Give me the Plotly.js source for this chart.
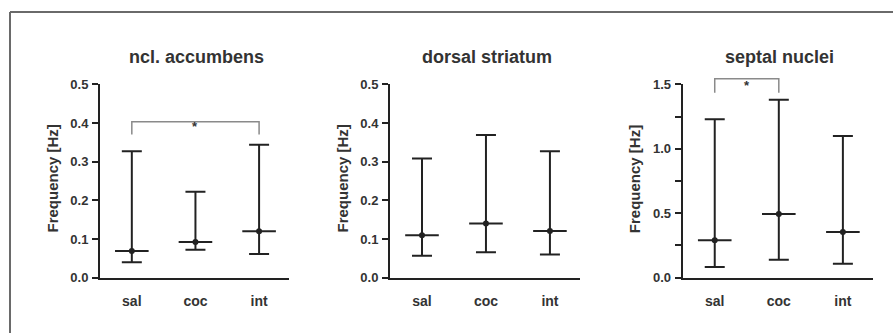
<!DOCTYPE html>
<html>
<head>
<meta charset="utf-8">
<script src="https://cdn.plot.ly/plotly-3.0.1.min.js"></script>
<style>html,body{margin:0;padding:0;background:#fff;}#chart{width:893px;height:333px;}</style>
</head>
<body>
<div id="chart"></div>
<script>
// ---- data (median with range whiskers) ----
const categories = ['sal', 'coc', 'int'];
const panelTitles = ['ncl. accumbens', 'dorsal striatum', 'septal nuclei'];
const yTitle = 'Frequency [Hz]';

const accMedian = [0.069, 0.092, 0.120];
const accLow    = [0.040, 0.072, 0.061];
const accHigh   = [0.327, 0.222, 0.344];

const dorMedian = [0.110, 0.140, 0.121];
const dorLow    = [0.057, 0.066, 0.060];
const dorHigh   = [0.308, 0.369, 0.327];

const sepMedian = [0.290, 0.494, 0.354];
const sepLow    = [0.083, 0.140, 0.109];
const sepHigh   = [1.228, 1.381, 1.099];

const yRanges = [[0, 0.5], [0, 0.5], [0, 1.5]];
const yDticks = [0.1, 0.1, 0.5];

// significance brackets: [fromCat, toCat, barY, legEndY, starY]
const accBracket = ['sal', 'int', 0.403, 0.370, 0.392];
const sepBracket = ['sal', 'coc', 1.543, 1.435, 1.492];

// ---- build ----
const FONT = 'Liberation Sans, Arial, sans-serif';
const TXT = '#333333';
const INK = '#222222';
const panels = [
  {med: accMedian, lo: accLow, hi: accHigh},
  {med: dorMedian, lo: dorLow, hi: dorHigh},
  {med: sepMedian, lo: sepLow, hi: sepHigh}
];
const W = 893, H = 333;
const xDomPx = [[100, 289], [390, 580], [682.7, 873]];
const xRange = [-0.5, 2.47];
const yDom = [(H - 277.7) / H, (H - 84.3) / H];

const traces = [];
const layout = {
  width: W, height: H,
  margin: {l: 0, r: 0, t: 0, b: 0},
  paper_bgcolor: '#fff', plot_bgcolor: 'rgba(0,0,0,0)',
  showlegend: false,
  font: {family: FONT, color: TXT},
  annotations: [], shapes: []
};

panels.forEach((p, i) => {
  const n = i + 1;
  const xa = 'x' + (n === 1 ? '' : n), ya = 'y' + (n === 1 ? '' : n);
  const xk = 'xaxis' + (n === 1 ? '' : n), yk = 'yaxis' + (n === 1 ? '' : n);
  traces.push({
    type: 'scatter', mode: 'markers', x: categories, y: p.med, xaxis: xa, yaxis: ya,
    marker: {symbol: 'line-ew', size: 24, color: INK, line: {width: 2, color: INK}},
    error_y: {type: 'data', symmetric: false,
      array: p.hi.map((v, k) => v - p.med[k]),
      arrayminus: p.med.map((v, k) => v - p.lo[k]),
      width: 10, thickness: 2, color: INK},
    hoverinfo: 'skip'
  });
  traces.push({
    type: 'scatter', mode: 'markers', x: categories, y: p.med, xaxis: xa, yaxis: ya,
    marker: {symbol: 'circle', size: 6, color: INK}, hoverinfo: 'skip'
  });
  layout[xk] = {
    domain: [xDomPx[i][0] / W, xDomPx[i][1] / W], anchor: ya,
    type: 'category', categoryorder: 'array', categoryarray: categories,
    range: xRange, showgrid: false, zeroline: false,
    showline: true, linecolor: INK, linewidth: 2, ticks: '',
    ticklabelstandoff: 9,
    tickfont: {family: FONT, size: 14, color: TXT, weight: 'bold'}, fixedrange: true
  };
  const yax = {
    domain: yDom, anchor: xa, range: yRanges[i], dtick: yDticks[i], tick0: 0,
    tickformat: '.1f', showgrid: false, zeroline: false,
    showline: true, linecolor: INK, linewidth: 2,
    ticks: 'outside', ticklen: 6, tickwidth: 2, tickcolor: INK,
    ticklabelstandoff: 1,
    tickfont: {family: FONT, size: 13, color: TXT, weight: 'bold'}, fixedrange: true
  };
  if (i === 2) yax.minor = {dtick: 0.25, ticks: 'outside', ticklen: 6, tickwidth: 2, tickcolor: INK, showgrid: false};
  layout[yk] = yax;

  const cx = (xDomPx[i][0] + xDomPx[i][1]) / 2;
  layout.annotations.push({
    xref: 'paper', yref: 'paper', x: (cx + 2) / W, y: (H - 57) / H,
    xanchor: 'center', yanchor: 'middle', showarrow: false,
    text: panelTitles[i], font: {family: FONT, size: 18, color: TXT, weight: 'bold'}
  });
  layout.annotations.push({
    xref: 'paper', yref: 'paper', x: (xDomPx[i][0] - 48.5) / W, y: (H - 179) / H,
    xanchor: 'center', yanchor: 'middle', showarrow: false, textangle: -90,
    text: yTitle, font: {family: FONT, size: 15, color: TXT, weight: 'bold'}
  });
});

// map data values of panel i to paper coordinates (so brackets may extend above the axis)
function xPaper(i, v) {
  const d = [xDomPx[i][0] / W, xDomPx[i][1] / W];
  return d[0] + (v - xRange[0]) / (xRange[1] - xRange[0]) * (d[1] - d[0]);
}
function yPaper(i, v) {
  const r = yRanges[i];
  return yDom[0] + (v - r[0]) / (r[1] - r[0]) * (yDom[1] - yDom[0]);
}

function addBracket(b, i) {
  const x0 = xPaper(i, categories.indexOf(b[0])), x1 = xPaper(i, categories.indexOf(b[1]));
  const yb = yPaper(i, b[2]), yl = yPaper(i, b[3]);
  layout.shapes.push({
    type: 'path', xref: 'paper', yref: 'paper',
    path: `M ${x0},${yl} L ${x0},${yb} L ${x1},${yb} L ${x1},${yl}`,
    line: {color: '#8a8a8a', width: 1.5}
  });
  layout.annotations.push({
    xref: 'paper', yref: 'paper', x: (x0 + x1) / 2, y: yPaper(i, b[4]), showarrow: false,
    xanchor: 'center', yanchor: 'middle', text: '*',
    font: {family: FONT, size: 13, color: TXT, weight: 'bold'}
  });
}
addBracket(accBracket, 0);
addBracket(sepBracket, 2);

// outer frame (top and left edges visible)
layout.shapes.push({type: 'line', xref: 'paper', yref: 'paper', x0: 10 / W, x1: 1.01, y0: (H - 12) / H, y1: (H - 12) / H, line: {color: '#6a6a6a', width: 2}});
layout.shapes.push({type: 'line', xref: 'paper', yref: 'paper', x0: 10 / W, x1: 10 / W, y0: (H - 12) / H, y1: -0.01, line: {color: '#6a6a6a', width: 2}});

Plotly.newPlot('chart', traces, layout, {staticPlot: true, displayModeBar: false});
</script>
</body>
</html>
